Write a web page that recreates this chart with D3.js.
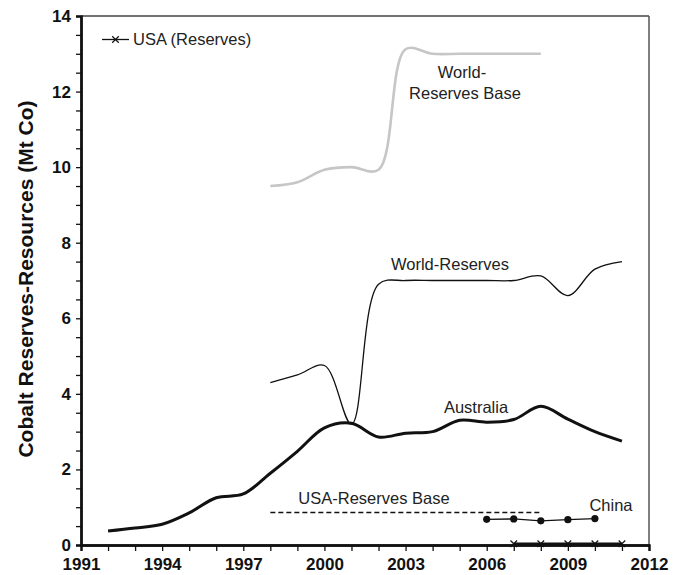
<!DOCTYPE html>
<html>
<head>
<meta charset="utf-8">
<script src="https://cdn.jsdelivr.net/npm/d3@7"></script>
<style>
  body { margin: 0; background: #fff; }
  svg { display: block; font-family: "Liberation Sans", Arial, Helvetica, sans-serif; }
</style>
</head>
<body>
<svg id="chart" width="686" height="575"></svg>
<script>
// Cobalt reserves and resources, Mt Co
const years = [1992,1993,1994,1995,1996,1997,1998,1999,2000,2001,2002,2003,2004,2005,2006,2007,2008,2009,2010,2011];
const australia = [0.37,0.45,0.55,0.85,1.25,1.35,1.9,2.48,3.1,3.22,2.86,2.96,3.0,3.3,3.25,3.32,3.67,3.33,3.0,2.75];

const worldYears = [1998,1999,2000,2001,2002,2003,2004,2005,2006,2007,2008,2009,2010,2011];
const worldReserves = [4.3,4.5,4.75,3.2,6.9,7.0,7.0,7.0,7.0,7.0,7.12,6.6,7.3,7.5];

const baseYears = [1998,1999,2000,2001,2002,2003,2004,2005,2006,2007,2008];
const worldReservesBase = [9.5,9.6,9.93,10.0,9.93,13.12,13.0,13.0,13.0,13.0,13.0];
const usaReservesBase = [0.86,0.86,0.86,0.86,0.86,0.86,0.86,0.86,0.86,0.86,0.86];

const chinaYears = [2006,2007,2008,2009,2010];
const china = [0.68,0.69,0.64,0.67,0.70];

const usaYears = [2007,2008,2009,2010,2011];
const usaReserves = [0.033,0.033,0.033,0.033,0.033];

const xTickLabels = [1991,1994,1997,2000,2003,2006,2009,2012];
const yTickLabels = [0,2,4,6,8,10,12,14];

const svg = d3.select("#chart");
const plotLeft = 81, plotRight = 649, plotTop = 16, plotBottom = 545;

const x = d3.scaleLinear().domain([1991, 2012]).range([plotLeft, plotRight]);
const y = d3.scaleLinear().domain([0, 14]).range([plotBottom, plotTop]);

const pts = (xs, vs) => xs.map((d, i) => [d, vs[i]]);
const smooth = d3.line().x(d => x(d[0])).y(d => y(d[1])).curve(d3.curveCatmullRom.alpha(0.5));
const straight = d3.line().x(d => x(d[0])).y(d => y(d[1]));

// frame: top and right edges
svg.append("line").attr("x1", plotLeft).attr("x2", plotRight).attr("y1", plotTop).attr("y2", plotTop)
  .attr("stroke", "#444").attr("stroke-width", 1.5);
svg.append("line").attr("x1", plotRight).attr("x2", plotRight).attr("y1", plotTop).attr("y2", plotBottom)
  .attr("stroke", "#555").attr("stroke-width", 1.5);

// series
svg.append("path").datum(pts(baseYears, worldReservesBase)).attr("d", smooth)
  .attr("fill", "none").attr("stroke", "#c6c6c6").attr("stroke-width", 2.6);

svg.append("path").datum(pts(worldYears, worldReserves)).attr("d", smooth)
  .attr("fill", "none").attr("stroke", "#111").attr("stroke-width", 1.3);

svg.append("path").datum(pts(years, australia)).attr("d", smooth)
  .attr("fill", "none").attr("stroke", "#111").attr("stroke-width", 3);

svg.append("path").datum(pts(baseYears, usaReservesBase)).attr("d", straight)
  .attr("fill", "none").attr("stroke", "#111").attr("stroke-width", 1.3)
  .attr("stroke-dasharray", "5,3");

svg.append("path").datum(pts(chinaYears, china)).attr("d", straight)
  .attr("fill", "none").attr("stroke", "#111").attr("stroke-width", 1.3);
svg.selectAll(".china").data(pts(chinaYears, china)).join("circle")
  .attr("class", "china").attr("cx", d => x(d[0])).attr("cy", d => y(d[1]))
  .attr("r", 3.6).attr("fill", "#111");

// axes
const xAxis = svg.append("g").attr("transform", `translate(0,${plotBottom})`);
xAxis.call(d3.axisBottom(x).tickValues(d3.range(1991, 2013)).tickSize(6).tickFormat(""));
xAxis.append("g").call(d3.axisBottom(x).tickValues(xTickLabels).tickSize(0).tickPadding(13)
  .tickFormat(d3.format("d")));
xAxis.selectAll(".domain").attr("stroke", "#111").attr("stroke-width", 2.4);
xAxis.selectAll(".tick line").attr("stroke", "#111").attr("stroke-width", 1.3);
xAxis.selectAll("text").attr("font-size", 17).attr("font-weight", "bold").attr("fill", "#111")
  .attr("font-family", "'Liberation Sans', Arial, sans-serif");

const yAxis = svg.append("g").attr("transform", `translate(${plotLeft},0)`);
yAxis.call(d3.axisLeft(y).tickValues(d3.range(0, 14.01, 0.5)).tickSize(5).tickFormat(""));
yAxis.append("g").call(d3.axisLeft(y).tickValues(yTickLabels).tickSize(0).tickPadding(10)
  .tickFormat(d3.format("d")));
yAxis.selectAll(".domain").attr("stroke", "#111").attr("stroke-width", 2.4);
yAxis.selectAll(".tick line").attr("stroke", "#111").attr("stroke-width", 1.3);
yAxis.selectAll("text").attr("font-size", 17).attr("font-weight", "bold").attr("fill", "#111")
  .attr("font-family", "'Liberation Sans', Arial, sans-serif");

// USA reserves, drawn along the baseline
svg.append("path").datum(pts(usaYears, usaReserves)).attr("d", straight)
  .attr("fill", "none").attr("stroke", "#111").attr("stroke-width", 2.4);
const cross = d3.symbol().type(d3.symbolX).size(30);
svg.selectAll(".usa").data(pts(usaYears, usaReserves)).join("path")
  .attr("class", "usa").attr("d", cross)
  .attr("transform", d => `translate(${x(d[0])},${y(d[1])})`)
  .attr("fill", "none").attr("stroke", "#111").attr("stroke-width", 1.2);

// y axis title
svg.append("text").attr("transform", "translate(33,279) rotate(-90)")
  .attr("text-anchor", "middle").attr("font-size", 21).attr("font-weight", "bold")
  .attr("fill", "#111").text("Cobalt Reserves-Resources (Mt Co)");

// legend
const lg = svg.append("g");
lg.append("line").attr("x1", 102).attr("x2", 129).attr("y1", 39.5).attr("y2", 39.5)
  .attr("stroke", "#111").attr("stroke-width", 1.3);
lg.append("path").attr("d", cross).attr("transform", "translate(115.5,39.5)")
  .attr("fill", "none").attr("stroke", "#111").attr("stroke-width", 1.2);
lg.append("text").attr("x", 133).attr("y", 45).attr("font-size", 16.5).attr("fill", "#222")
  .text("USA (Reserves)");

// series labels
const labels = [
  { t: "World-", x: 462, y: 78 },
  { t: "Reserves Base", x: 465, y: 99 },
  { t: "World-Reserves", x: 450, y: 270 },
  { t: "Australia", x: 476, y: 413 },
  { t: "USA-Reserves Base", x: 374, y: 504 },
  { t: "China", x: 611, y: 511 }
];
svg.selectAll(".lbl").data(labels).join("text")
  .attr("class", "lbl").attr("x", d => d.x).attr("y", d => d.y)
  .attr("text-anchor", "middle").attr("font-size", 16.5).attr("fill", "#222")
  .text(d => d.t);
</script>
</body>
</html>
